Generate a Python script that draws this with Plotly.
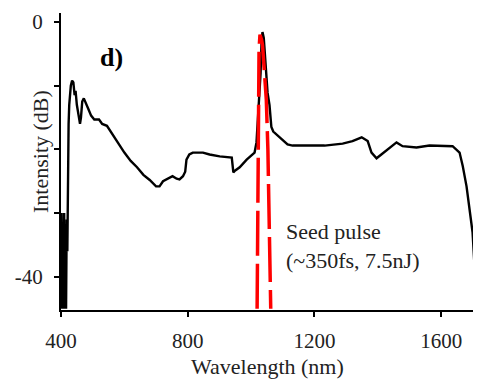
import plotly.graph_objects as go

# Measured spectrum (black)
wavelength_nm = [400, 402, 404, 406, 408, 410, 412, 414, 416, 418, 420, 421, 422, 424, 426, 428,
                 431, 435, 439, 443, 446, 450, 455, 460, 463, 467, 472, 477, 485, 495, 505, 520,
                 530, 545, 560, 580, 600, 620, 640, 660, 680, 700, 711, 722, 733, 752, 765, 774,
                 785, 792, 796, 805, 816, 848, 869, 901, 939, 944, 950, 964, 986, 1000, 1011,
                 1017, 1022, 1027, 1030, 1033, 1036, 1040, 1043, 1046, 1048, 1052, 1058, 1064,
                 1070, 1083, 1099, 1115, 1131, 1153, 1232, 1289, 1320, 1349, 1368, 1380, 1396,
                 1411, 1437, 1459, 1478, 1522, 1563, 1636, 1658, 1668, 1680, 1689, 1699, 1708, 1711]
intensity_db = [-45, -30, -45, -32, -45, -30, -45, -34, -45, -31, -36, -26, -20, -16, -13, -11,
                -10, -9.2, -9.5, -11.5, -10.8, -13, -14.5, -16, -15, -12.5, -12, -12.7, -13.5, -14.7, -15.3, -15.3,
                -16, -16.3, -17.5, -19, -20.5, -21.8, -22.8, -24, -24.8, -25.8, -25.8, -25, -24.7, -24.2, -24.6, -24.7,
                -24.2, -23.5, -21.6, -20.8, -20.5, -20.5, -20.8, -21.1, -21.3, -23.6, -23.3, -22.8, -21.6, -21, -20.5,
                -18.9, -15, -12.2, -8, -3, -1.6, -2.5, -5, -7, -8, -11.1, -13, -16.5,
                -17.2, -17.8, -18.6, -19.2, -19.4, -19.4, -19.4, -19.1, -18.7, -18.1, -18.7, -20.5, -21.4,
                -20.8, -19.7, -18.9, -19.5, -19.7, -19.4, -19.5, -20.5, -22.6, -25.8, -28.9, -33, -40.8, -45]

# Seed pulse (red dashed)
seed_nm = [1019, 1020.5, 1022, 1025, 1028, 1030, 1033, 1036, 1042, 1048, 1053, 1057, 1062]
seed_db = [-45, -27.8, -12.2, -4.4, -2.0, -2.2, -2.8, -3.6, -7.5, -12.2, -20, -31, -45]

x_ticks = [400, 800, 1200, 1600]
y_ticks = [0, -10, -20, -30, -40]
y_tick_text = ["0", "", "", "", "-40"]

FONT = "Liberation Serif, Times New Roman, serif"
TXT = "#222222"

fig = go.Figure()
fig.add_trace(go.Scatter(x=wavelength_nm, y=intensity_db, mode="lines",
                         line=dict(color="black", width=2.4), showlegend=False))
fig.add_trace(go.Scatter(x=seed_nm, y=seed_db, mode="lines",
                         line=dict(color="#ff0000", width=3.5, dash="45px,8px"), showlegend=False))

# page body has an 8px margin, so the figure is sized to fit the 481x379 window
fig.update_layout(
    width=473, height=371,
    margin=dict(l=53, r=4, t=5, b=69),
    paper_bgcolor="white", plot_bgcolor="white",
    font=dict(family=FONT, color=TXT, size=21),
    xaxis=dict(range=[400, 1713], tickvals=x_ticks, ticks="outside", ticklen=5, tickwidth=2,
               tickcolor="black", showline=True, linecolor="black", linewidth=2,
               showgrid=False, zeroline=False, ticklabelstandoff=6, automargin=False,
               tickfont=dict(size=21, family=FONT, color=TXT)),
    yaxis=dict(range=[-45.2, 1.4], tickvals=y_ticks, ticktext=y_tick_text, ticks="outside",
               ticklen=5, tickwidth=2, tickcolor="black", showline=True, linecolor="black",
               linewidth=2, showgrid=False, zeroline=False, ticklabelstandoff=7,
               automargin=False, tickfont=dict(size=21, family=FONT, color=TXT)),
    annotations=[
        dict(text="Wavelength (nm)", xref="paper", yref="paper",
             x=(267 - 61) / 416, y=(310 - 366) / 297, showarrow=False,
             xanchor="center", yanchor="middle",
             font=dict(size=22, family=FONT, color=TXT)),
        dict(text="Intensity (dB)", textangle=-90, xref="paper", yref="paper",
             x=(40 - 61) / 416, y=(310 - 152) / 297, showarrow=False,
             xanchor="center", yanchor="middle",
             font=dict(size=22, family=FONT, color=TXT)),
        dict(text="<b>d)</b>", xref="paper", yref="paper", x=(111 - 61) / 416, y=(310 - 57) / 297,
             showarrow=False, xanchor="center", yanchor="middle",
             font=dict(size=26, family=FONT, color="black")),
        dict(text="Seed pulse<br>(~350fs, 7.5nJ)", xref="paper", yref="paper",
             x=(284 - 61) / 416, y=(310 - 246) / 297, showarrow=False, xanchor="left",
             yanchor="middle", align="left",
             font=dict(size=22, family=FONT, color=TXT)),
    ],
)

fig.write_html("out.html")
